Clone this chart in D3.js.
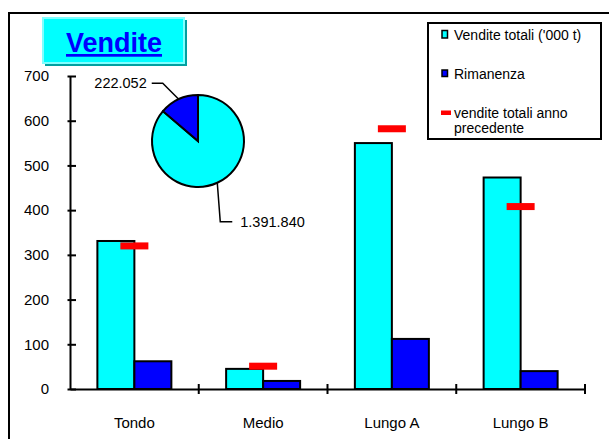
<!DOCTYPE html>
<html lang="it">
<head>
<meta charset="UTF-8">
<title>Vendite</title>
<script src="https://cdn.jsdelivr.net/npm/d3@7"></script>
<style>
  body { margin: 0; background: #fff; }
  svg { display: block; font-family: "Liberation Sans", Arial, sans-serif; }
</style>
</head>
<body>
<svg></svg>
<script>
// dati
var categories = ["Tondo", "Medio", "Lungo A", "Lungo B"];
var venditeTotali = [331, 45, 550, 473];
var rimanenza = [62, 18, 112, 40];
var venditePrecedenti = [320, 51, 582, 408];
var yTicks = [0, 100, 200, 300, 400, 500, 600, 700];
var pieLabels = ["1.391.840", "222.052"];
var pieValues = [1391840, 222052];
var legendLabels = ["Vendite totali ('000 t)", "Rimanenza", "vendite totali anno", "precedente"];

var width = 609, height = 439;
var svg = d3.select("svg").attr("width", width).attr("height", height);

// cornice esterna
svg.append("rect")
    .attr("x", 9).attr("y", 13)
    .attr("width", 640).attr("height", 460)
    .attr("fill", "none").attr("stroke", "#000").attr("stroke-width", 2);

// scale
var y = d3.scaleLinear().domain([0, 700]).range([389, 76]);
var x = d3.scaleBand().domain(categories).range([70, 585]);
var xs = d3.scaleBand().domain(["tot", "rim"]).range([0, x.bandwidth()]).paddingOuter(0.74);

// asse y
var yAxis = svg.append("g")
    .attr("transform", "translate(70,0)")
    .call(d3.axisLeft(y).tickValues(yTicks).tickSizeInner(-6).tickSizeOuter(0).tickPadding(21));
yAxis.select(".domain").attr("stroke-width", 2);
yAxis.selectAll(".tick line").attr("x1", -2.5).attr("stroke-width", 2);
yAxis.selectAll(".tick text")
    .attr("font-size", 15).attr("font-family", "Liberation Sans, Arial, sans-serif").attr("fill", "#000");

// asse x
var xAxis = svg.append("g")
    .attr("transform", "translate(0,389)")
    .call(d3.axisBottom(x).tickSize(0).tickPadding(28));
xAxis.select(".domain").attr("stroke-width", 2);
xAxis.selectAll(".tick text")
    .attr("font-size", 15).attr("font-family", "Liberation Sans, Arial, sans-serif").attr("fill", "#000");
var bounds = categories.slice(1).map(function(c) { return x(c); }).concat([x.range()[1]]);
xAxis.selectAll(".bound")
    .data(bounds)
    .enter().append("line")
    .attr("x1", function(d) { return d; }).attr("x2", function(d) { return d; })
    .attr("y1", -5).attr("y2", 5)
    .attr("stroke", "#000").attr("stroke-width", 2);

// barre
var groups = svg.selectAll(".cat")
    .data(categories)
    .enter().append("g")
    .attr("transform", function(d) { return "translate(" + x(d) + ",0)"; });

groups.append("rect")
    .attr("x", xs("tot"))
    .attr("y", function(d, i) { return y(venditeTotali[i]); })
    .attr("width", xs.bandwidth())
    .attr("height", function(d, i) { return y(0) - y(venditeTotali[i]); })
    .attr("fill", "#00ffff").attr("stroke", "#000").attr("stroke-width", 2);

groups.append("rect")
    .attr("x", xs("rim"))
    .attr("y", function(d, i) { return y(rimanenza[i]); })
    .attr("width", xs.bandwidth())
    .attr("height", function(d, i) { return y(0) - y(rimanenza[i]); })
    .attr("fill", "#0000ff").attr("stroke", "#000").attr("stroke-width", 2);

// anno precedente
groups.append("rect")
    .attr("x", x.bandwidth() / 2 - 14)
    .attr("y", function(d, i) { return y(venditePrecedenti[i]) - 3.5; })
    .attr("width", 28).attr("height", 7)
    .attr("fill", "#ff0000");

// titolo
svg.append("rect").attr("x", 45).attr("y", 20).attr("width", 142).attr("height", 46).attr("fill", "#00a0a0");
svg.append("rect").attr("x", 43).attr("y", 18).attr("width", 141).attr("height", 45)
    .attr("fill", "#00ffff").attr("stroke", "#80ffff").attr("stroke-width", 2);
svg.append("text")
    .attr("x", 114).attr("y", 52)
    .attr("text-anchor", "middle")
    .attr("font-size", 27).attr("font-weight", "bold")
    .attr("fill", "#0000ff")
    .attr("text-decoration", "underline")
    .text("Vendite");

// torta
var cx = 198, cy = 141, r = 46;
var pie = d3.pie().sort(null);
var arc = d3.arc().innerRadius(0).outerRadius(r);
var pieData = pie(pieValues);
var pg = svg.append("g").attr("transform", "translate(" + cx + "," + cy + ")");
pg.selectAll("path")
    .data(pieData)
    .enter().append("path")
    .attr("d", arc)
    .attr("fill", function(d, i) { return i === 0 ? "#00ffff" : "#0000ff"; })
    .attr("stroke", "#000").attr("stroke-width", 2);

function edge(d) {
    var a = (d.startAngle + d.endAngle) / 2;
    return [Math.sin(a) * r, -Math.cos(a) * r];
}
var p0 = edge(pieData[0]);
pg.append("polyline")
    .attr("points", [p0, [p0[0] + 3, p0[1] + 39], [p0[0] + 15, p0[1] + 39]].join(" "))
    .attr("fill", "none").attr("stroke", "#000").attr("stroke-width", 1.5);
pg.append("text")
    .attr("x", p0[0] + 23).attr("y", p0[1] + 44)
    .attr("font-size", 14.5)
    .text(pieLabels[0]);

var p1 = edge(pieData[1]);
pg.append("polyline")
    .attr("points", [p1, [p1[0] - 16, p1[1] - 16], [p1[0] - 27, p1[1] - 16]].join(" "))
    .attr("fill", "none").attr("stroke", "#000").attr("stroke-width", 1.5);
pg.append("text")
    .attr("x", p1[0] - 32).attr("y", p1[1] - 11)
    .attr("text-anchor", "end")
    .attr("font-size", 14.5)
    .text(pieLabels[1]);

// legenda
var lg = svg.append("g");
lg.append("rect").attr("x", 428).attr("y", 23).attr("width", 173).attr("height", 116)
    .attr("fill", "#fff").attr("stroke", "#000").attr("stroke-width", 2);
lg.append("rect").attr("x", 442).attr("y", 30.5).attr("width", 5.5).attr("height", 7.5)
    .attr("fill", "#00ffff").attr("stroke", "#000").attr("stroke-width", 1.5);
lg.append("rect").attr("x", 442).attr("y", 70).attr("width", 5.5).attr("height", 6.5)
    .attr("fill", "#0000ff").attr("stroke", "#000").attr("stroke-width", 1.5);
lg.append("rect").attr("x", 441).attr("y", 110.5).attr("width", 10).attr("height", 4.5)
    .attr("fill", "#ff0000");
var ly = [40, 79, 118, 133];
lg.selectAll("text.leg")
    .data(legendLabels)
    .enter().append("text")
    .attr("x", 454)
    .attr("y", function(d, i) { return ly[i]; })
    .attr("font-size", 14)
    .text(function(d) { return d; });
</script>
</body>
</html>
